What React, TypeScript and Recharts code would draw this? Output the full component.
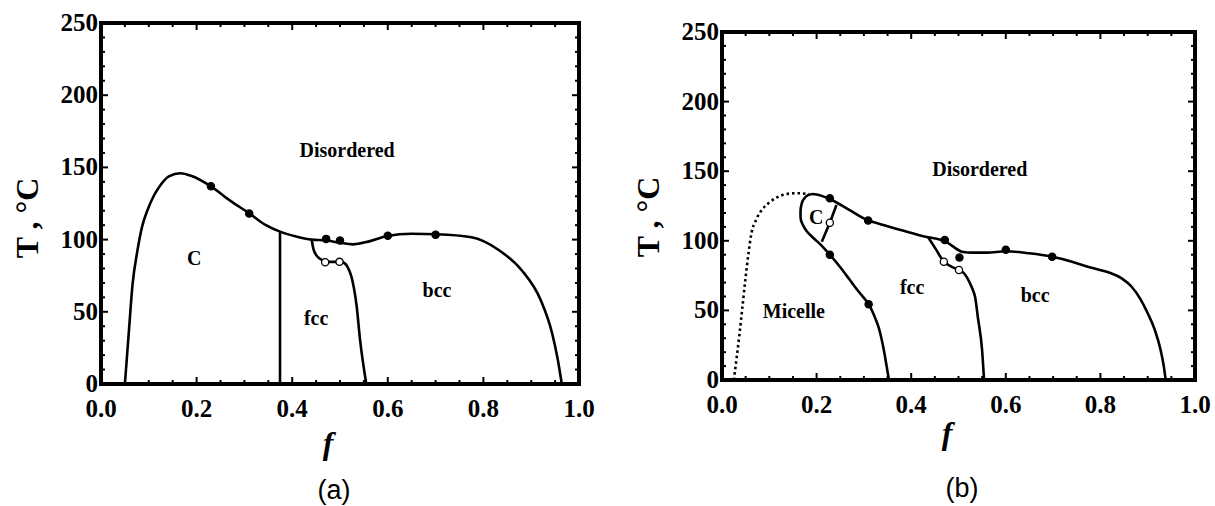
import React from 'react';
import {
  ComposedChart,
  Line,
  Scatter,
  XAxis,
  YAxis,
  ReferenceArea,
  ReferenceDot,
} from 'recharts';

// ---- axes ----
const fTicks = [0, 0.05, 0.1, 0.15, 0.2, 0.25, 0.3, 0.35, 0.4, 0.45, 0.5, 0.55, 0.6, 0.65, 0.7, 0.75, 0.8, 0.85, 0.9, 0.95, 1.0];
const fLabels = [0, 0.2, 0.4, 0.6, 0.8, 1.0];
const tTicks = [0, 10, 20, 30, 40, 50, 60, 70, 80, 90, 100, 110, 120, 130, 140, 150, 160, 170, 180, 190, 200, 210, 220, 230, 240, 250];
const tLabels = [0, 50, 100, 150, 200, 250];

// ---- panel (a) ----
const orderA = [
  [0.05, 0], [0.058, 35], [0.066, 69], [0.076, 92], [0.086, 109], [0.098, 121], [0.11, 130],
  [0.125, 138], [0.142, 143.8], [0.166, 146], [0.19, 144], [0.23, 136.8], [0.27, 127],
  [0.31, 118.2], [0.345, 110], [0.3745, 105.5], [0.41, 102], [0.44, 100], [0.47, 99.5],
  [0.5, 97.8], [0.527, 96.7], [0.559, 98.6], [0.599, 102.5], [0.65, 104], [0.703, 103.7],
  [0.775, 101.6], [0.832, 92.8], [0.88, 78.8], [0.92, 58], [0.944, 34.8], [0.955, 18], [0.964, 0],
];
const cFccA = [[0.3745, 0], [0.3745, 105.5]];
const fccBccA = [
  [0.441, 99.5], [0.444, 94], [0.448, 90.5], [0.455, 87.5], [0.462, 85.9], [0.469, 84.6],
  [0.499, 84.6], [0.509, 83.8], [0.516, 81], [0.524, 74.3], [0.535, 53.5], [0.542, 30.5], [0.555, 0],
];
const filledA = [[0.23, 137], [0.31, 118], [0.471, 100.5], [0.5, 99.3], [0.6, 102.7], [0.7, 103.4]];
const openA = [[0.469, 84.3], [0.499, 84.6]];
const regionsA: [string, number, number][] = [
  ['Disordered', 0.515, 162], ['C', 0.195, 87], ['fcc', 0.45, 46], ['bcc', 0.703, 65],
];

// ---- panel (b) ----
const micelleB = [
  [0.025, 0], [0.031, 16], [0.037, 33], [0.044, 55], [0.05, 74], [0.056, 91], [0.062, 105],
  [0.072, 115], [0.083, 121.6], [0.1, 127.5], [0.116, 131.2], [0.135, 133.5], [0.157, 134.2], [0.184, 133.6],
];
const leftB = [
  [0.19, 133.6], [0.182, 132.8], [0.173, 130], [0.168, 126], [0.166, 121], [0.166, 117], [0.17, 112],
  [0.18, 106.5], [0.195, 101.5], [0.211, 96.4], [0.228, 90], [0.25, 81], [0.27, 72], [0.29, 63],
  [0.31, 54.5], [0.322, 46], [0.331, 38], [0.337, 30], [0.343, 20], [0.348, 10], [0.353, 0],
];
const cFccB = [[0.242, 125.7], [0.228, 113], [0.211, 99.4]];
const upperB = [
  [0.19, 133.6], [0.2, 133.3], [0.228, 130], [0.27, 122], [0.31, 114.5], [0.33, 112.5], [0.38, 107.5],
  [0.436, 102.5], [0.46, 101], [0.475, 99], [0.489, 95.8], [0.507, 92.2], [0.53, 91.5], [0.56, 91.5],
  [0.6, 92.5], [0.65, 91], [0.698, 88.5], [0.74, 85], [0.777, 81], [0.818, 77.2], [0.845, 73],
  [0.866, 67], [0.884, 58.5], [0.9, 48], [0.915, 36], [0.927, 22], [0.934, 10], [0.938, 0],
];
const fccBccB = [
  [0.436, 102.5], [0.452, 94], [0.469, 85], [0.485, 81.5], [0.501, 79], [0.512, 76.5], [0.521, 71.8],
  [0.53, 65], [0.535, 59.8], [0.541, 44.9], [0.55, 21], [0.554, 0],
];
const filledB = [[0.228, 130.5], [0.309, 114.5], [0.471, 100.5], [0.502, 88], [0.6, 93.5], [0.698, 88.5], [0.228, 90], [0.31, 54.5]];
const openB = [[0.228, 113], [0.469, 85], [0.501, 79]];
const regionsB: [string, number, number][] = [
  ['Disordered', 0.545, 152], ['C', 0.199, 117], ['Micelle', 0.152, 50], ['fcc', 0.402, 67], ['bcc', 0.662, 61],
];

const pts = (a: number[][]) => a.map(([x, y]) => ({ x, y }));

const SERIF = '"Liberation Serif", "Times New Roman", serif';

const tickFn = (side: string) => (props: any) => {
  const { x, y, payload } = props;
  const v = payload.value;
  const major = side === 'bottom' || side === 'top' ? fLabels.includes(v) : tLabels.includes(v);
  const len = major ? 7 : 4;
  if (side === 'bottom') {
    return (
      <g>
        <line x1={x} x2={x} y1={y} y2={y - len} stroke="#000" strokeWidth={2} />
        {major && (
          <text x={x} y={y + 33} textAnchor="middle" fontFamily={SERIF} fontWeight={700} fontSize={25} fill="#000">
            {v.toFixed(1)}
          </text>
        )}
      </g>
    );
  }
  if (side === 'top') {
    return <line x1={x} x2={x} y1={y} y2={y + len} stroke="#000" strokeWidth={2} />;
  }
  if (side === 'left') {
    return (
      <g>
        <line x1={x} x2={x + len} y1={y} y2={y} stroke="#000" strokeWidth={2} />
        {major && (
          <text x={x - 3} y={y + 8} textAnchor="end" fontFamily={SERIF} fontWeight={700} fontSize={25} fill="#000">
            {v}
          </text>
        )}
      </g>
    );
  }
  return <line x1={x} x2={x - len} y1={y} y2={y} stroke="#000" strokeWidth={2} />;
};

const Dot = (fill: string) => (p: any) => (
  <circle cx={p.cx} cy={p.cy} r={3.6} fill={fill} stroke="#000" strokeWidth={1.3} />
);

const curve = (data: number[][], type: any, key: string, dash?: string) => (
  <Line
    key={key}
    data={pts(data)}
    dataKey="y"
    type={type}
    stroke="#000"
    strokeWidth={2.6}
    strokeDasharray={dash}
    dot={false}
    activeDot={false}
    legendType="none"
    isAnimationActive={false}
  />
);

const Panel = ({
  width,
  margin,
  yWidth,
  lines,
  filled,
  open,
  regions,
}: {
  width: number;
  margin: { top: number; right: number; bottom: number; left: number };
  yWidth: number;
  lines: React.ReactNode[];
  filled: number[][];
  open: number[][];
  regions: [string, number, number][];
}) => (
  <ComposedChart width={width} height={506} margin={margin}>
    <XAxis xAxisId={0} type="number" dataKey="x" domain={[0, 1]} ticks={fTicks} interval={0}
      tickSize={0} tickMargin={0} axisLine={false} tickLine={false} height={40} tick={tickFn('bottom')} />
    <XAxis xAxisId="t" orientation="top" type="number" dataKey="x" domain={[0, 1]} ticks={fTicks} interval={0}
      tickSize={0} tickMargin={0} axisLine={false} tickLine={false} height={1} tick={tickFn('top')} />
    <YAxis yAxisId={0} type="number" dataKey="y" domain={[0, 250]} ticks={tTicks} interval={0}
      tickSize={0} tickMargin={0} axisLine={false} tickLine={false} width={yWidth} tick={tickFn('left')} />
    <YAxis yAxisId="r" orientation="right" type="number" dataKey="y" domain={[0, 250]} ticks={tTicks} interval={0}
      tickSize={0} tickMargin={0} axisLine={false} tickLine={false} width={1} tick={tickFn('right')} />
    {lines}
    <Line xAxisId="t" yAxisId="r" data={pts([[0, 0], [1, 250]])} dataKey="y" stroke="none" dot={false}
      activeDot={false} legendType="none" isAnimationActive={false} />
    <Scatter data={pts(filled)} shape={Dot('#000')} isAnimationActive={false} legendType="none" />
    <Scatter data={pts(open)} shape={Dot('#fff')} isAnimationActive={false} legendType="none" />
    {regions.map(([name, x, y]) => (
      <ReferenceDot key={name} x={x} y={y} r={0} fill="none" stroke="none"
        label={{ value: name, position: 'center', fontFamily: SERIF, fontWeight: 700, fontSize: 20, fill: '#000' }} />
    ))}
    <ReferenceArea x1={0} x2={1} y1={0} y2={250} fill="none" fillOpacity={0}
      stroke="#000" strokeWidth={4} strokeOpacity={1} ifOverflow="visible" />
  </ComposedChart>
);

const Txt = ({ x, y, children, style }: { x: number; y: number; children: React.ReactNode; style?: React.CSSProperties }) => (
  <div
    style={{
      position: 'absolute',
      left: x,
      top: y,
      transform: 'translate(-50%, -50%)',
      whiteSpace: 'nowrap',
      lineHeight: 1,
      color: '#000',
      ...style,
    }}
  >
    {children}
  </div>
);

const axisTitle: React.CSSProperties = { fontFamily: SERIF, fontWeight: 700, fontSize: 32 };
const fTitle: React.CSSProperties = { fontFamily: SERIF, fontWeight: 700, fontStyle: 'italic', fontSize: 32 };
const panelTag: React.CSSProperties = { fontFamily: '"Liberation Sans", Arial, sans-serif', fontSize: 27 };

export default function App() {
  return (
    <div style={{ position: 'absolute', left: 0, top: 0, width: 1215, height: 506, background: '#fff' }}>
      <div style={{ position: 'absolute', left: 0, top: 0 }}>
        <Panel
          width={600}
          margin={{ top: 22, right: 20, bottom: 82, left: 0 }}
          yWidth={101}
          lines={[
            curve(orderA, 'monotone', 'a1'),
            curve(cFccA, 'linear', 'a2'),
            curve(fccBccA, 'monotone', 'a3'),
          ]}
          filled={filledA}
          open={openA}
          regions={regionsA}
        />
      </div>
      <div style={{ position: 'absolute', left: 600, top: 0 }}>
        <Panel
          width={615}
          margin={{ top: 31, right: 19, bottom: 86, left: 0 }}
          yWidth={122}
          lines={[
            curve(micelleB, 'monotone', 'b1', '2.5 3'),
            curve(leftB, 'monotoneY', 'b2'),
            curve(cFccB, 'linear', 'b3'),
            curve(upperB, 'monotone', 'b4'),
            curve(fccBccB, 'monotone', 'b5'),
          ]}
          filled={filledB}
          open={openB}
          regions={regionsB}
        />
      </div>
      <Txt x={27} y={218} style={{ ...axisTitle, transform: 'translate(-50%, -50%) rotate(-90deg)' }}>T , °C</Txt>
      <Txt x={648} y={217} style={{ ...axisTitle, transform: 'translate(-50%, -50%) rotate(-90deg)' }}>T , °C</Txt>
      <Txt x={328} y={443} style={fTitle}>f</Txt>
      <Txt x={947} y={433} style={fTitle}>f</Txt>
      <Txt x={334} y={490} style={panelTag}>(a)</Txt>
      <Txt x={962} y={488} style={panelTag}>(b)</Txt>
    </div>
  );
}
